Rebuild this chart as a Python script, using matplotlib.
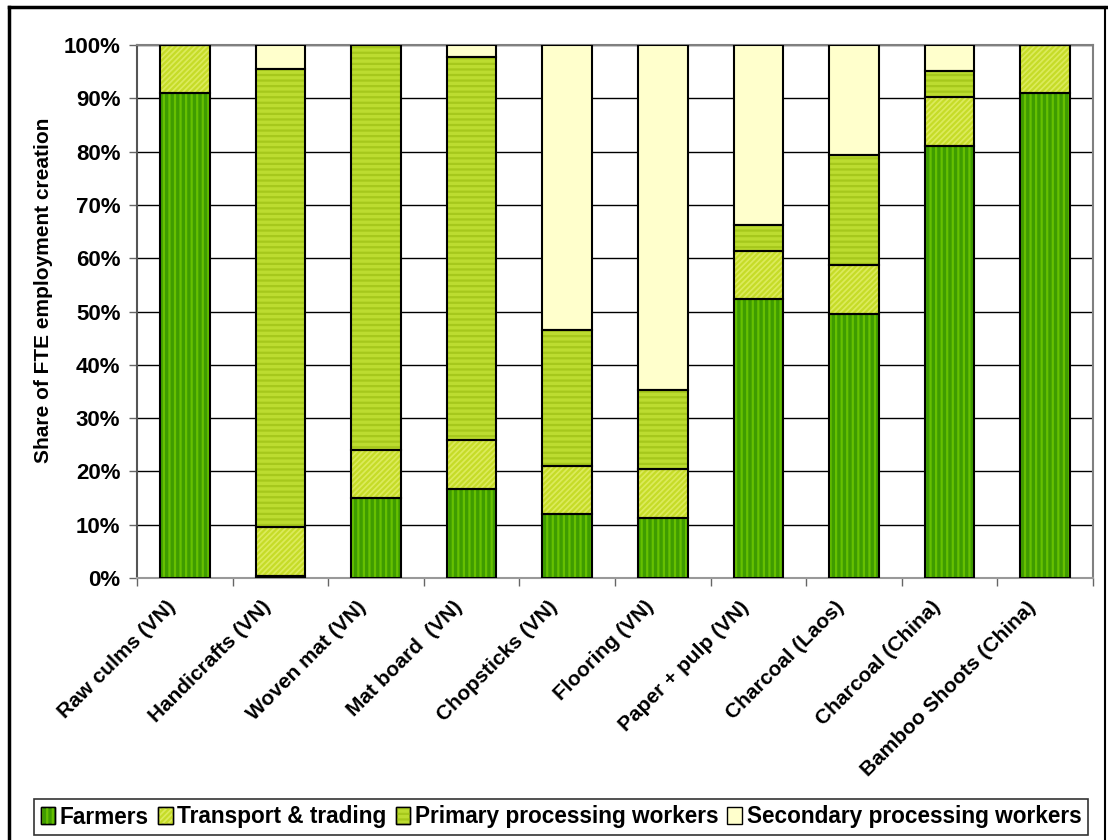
import matplotlib
matplotlib.use("Agg")
import matplotlib.pyplot as plt
import numpy as np
from matplotlib.patches import Patch
from matplotlib.lines import Line2D
from matplotlib.legend_handler import HandlerTuple
from matplotlib.ticker import PercentFormatter

plt.rcParams['font.family'] = ['Liberation Sans', 'DejaVu Sans']
plt.rcParams['hatch.linewidth'] = 1.6

categories = ["Raw culms (VN)", "Handicrafts (VN)", "Woven mat (VN)", "Mat board  (VN)",
              "Chopsticks (VN)", "Flooring (VN)", "Paper + pulp (VN)", "Charcoal (Laos)",
              "Charcoal (China)", "Bamboo Shoots (China)"]
series_names = ["Farmers", "Transport & trading", "Primary processing workers",
                "Secondary processing workers"]
farmers = [91.0, 0.4, 15.0, 16.7, 12.0, 11.3, 52.3, 49.6, 81.1, 91.0]
transport = [9.0, 9.1, 9.1, 9.1, 9.0, 9.1, 9.1, 9.1, 9.2, 9.0]
primary = [0.0, 86.0, 75.9, 72.0, 25.5, 14.9, 4.8, 20.6, 4.8, 0.0]
secondary = [0.0, 4.5, 0.0, 2.2, 53.5, 64.7, 33.8, 20.7, 4.9, 0.0]

fills = ["#3f9c00", "#dceb5c", "#bcdc30", "#ffffcc"]
hatch_cols = ["#66c000", "#c6dc28", "#a6c81c", None]
hatches = ["|||", "//////", "---", None]

fig = plt.figure(figsize=(11.08, 8.4), dpi=100)
W, H = 1108, 840
ax = fig.add_axes([137 / W, 1 - 578 / H, (1093 - 137) / W, (578 - 45) / H])

x = np.arange(len(categories))
width = 0.52
bottom = np.zeros(len(categories))
for vals, fc, hc, h in zip([farmers, transport, primary, secondary], fills, hatch_cols, hatches):
    vals = np.array(vals)
    ax.bar(x, vals, width, bottom=bottom, color=fc, edgecolor="none", zorder=3)
    if h:
        ax.bar(x, vals, width, bottom=bottom, color="none", edgecolor=hc, hatch=h,
               linewidth=0, zorder=4)
    ax.bar(x, vals, width, bottom=bottom, color="none", edgecolor="black",
           linewidth=1.5, zorder=5)
    bottom += vals

ax.set_xlim(-0.5, len(categories) - 0.5)
ax.set_ylim(0, 100)
ax.set_yticks(np.arange(0, 101, 10))
ax.yaxis.set_major_formatter(PercentFormatter(decimals=0))
ax.grid(axis="y", color="black", linewidth=1.0, zorder=1)
ax.set_axisbelow(True)

ax.set_xticks(x - 0.2)
ax.set_xticklabels(categories, rotation=45, ha="right", rotation_mode="anchor",
                   fontsize=15, fontweight="bold")
ax.tick_params(axis="x", length=0, pad=14)
ax.set_xticks(np.arange(-0.5, len(categories), 1), minor=True)
ax.tick_params(axis="x", which="minor", length=6, width=1, color="#666666", direction="out")
ax.tick_params(axis="y", labelsize=16, length=6, width=1, color="#666666", pad=6)
for lbl in ax.get_yticklabels():
    lbl.set_fontweight("bold")

for side in ["top", "right"]:
    ax.spines[side].set_color("#808080")
    ax.spines[side].set_linewidth(1.5)
ax.spines["left"].set_color("#555555")
ax.spines["left"].set_linewidth(1.5)
ax.spines["bottom"].set_color("#999999")
ax.spines["bottom"].set_linewidth(1.5)

ax.set_ylabel("Share of FTE employment creation", fontsize=15, fontweight="bold")
ax.yaxis.set_label_coords(-0.088, 0.54)

# legend handles: fill + hatch overlay
handles = []
for fc, hc, h in zip(fills, hatch_cols, hatches):
    base = Patch(facecolor=fc, edgecolor="black", linewidth=1.0)
    if h:
        top = Patch(facecolor="none", edgecolor=hc, hatch=h, linewidth=0)
        edge = Patch(facecolor="none", edgecolor="black", linewidth=1.0)
        handles.append((base, top, edge))
    else:
        handles.append(base)
leg = fig.legend(handles, series_names, loc="center", bbox_to_anchor=(561 / W, 1 - 817 / H),
                 ncol=4, frameon=True, fancybox=False, edgecolor="black",
                 handler_map={tuple: HandlerTuple(ndivide=1, pad=0)},
                 prop={"weight": "bold", "size": 16.3},
                 handlelength=0.65, handleheight=0.75,
                 handletextpad=0.2, columnspacing=0.4, borderpad=0.3)
leg.get_frame().set_linewidth(1.2)

# outer frame around the chart
fig.add_artist(Line2D([9 / W, 1], [1 - 7 / H, 1 - 7 / H], transform=fig.transFigure,
                      color="black", linewidth=2.5))
fig.add_artist(Line2D([9 / W, 9 / W], [0, 1 - 7 / H], transform=fig.transFigure,
                      color="black", linewidth=2.5))
fig.add_artist(Line2D([1105 / W, 1105 / W], [0, 1 - 7 / H], transform=fig.transFigure,
                      color="black", linewidth=1.5))

fig.savefig("out.png", dpi=100)
